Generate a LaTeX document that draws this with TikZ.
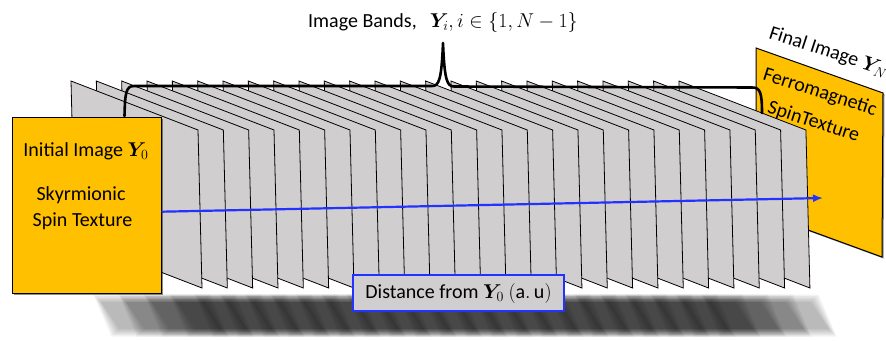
\RequirePackage{fix-cm}
\documentclass[tikz,border=0pt]{standalone}
\usepackage{amsmath,bm}
\usepackage{fontspec}
\setmainfont{Carlito}
\usetikzlibrary{arrows.meta,shadows,calc}
\definecolor{gold}{RGB}{255,192,0}
\definecolor{plategray}{RGB}{208,206,206}
\definecolor{arrowblue}{RGB}{35,50,255}
\tikzset{
  txt/.style={font=\fontsize{20}{24}\selectfont, inner sep=0pt},
  plate/.style={fill=plategray, draw=black, line width=0.8pt, line join=miter},
  goldbox/.style={fill=gold, draw=black, line width=1pt,
     drop shadow={shadow xshift=1.5pt, shadow yshift=-1.5pt, opacity=0.45, fill=black}},
  bracketline/.style={draw=black, line width=2.6pt, line join=round, line cap=round},
  bluearrow/.style={draw=arrowblue, line width=2.2pt, -{Latex[length=10pt,width=8pt]}},
  distbox/.style={txt, fill=plategray, draw=arrowblue, line width=1.3pt,
     minimum width=211pt, minimum height=36pt},
  gshadow/.style={fill=black, fill opacity=0.052, draw=none}
}
\begin{document}
\begin{tikzpicture}[x=1pt,y=-1pt]
\useasboundingbox (0,0) rectangle (886,340);
% ground shadow of the plates
\foreach \k in {0,...,24}{
  \pgfmathsetmacro\xl{98+25.33*\k}
  \foreach \e in {4.5,3,1.5,0,-1.5,-3}{
    \fill[gshadow] ({\xl-\e},{299-\e}) -- ({\xl+108+\e},{299-\e}) -- ({\xl+126+\e},{332+\e}) -- ({\xl+18-\e},{332+\e}) -- cycle;
  }
}
% final image panel
\filldraw[goldbox] (756,48) coordinate (fA) -- (883,93) coordinate (fB) -- (882,257) coordinate (fC) -- (756,211) coordinate (fD) -- cycle;
% image bands
\foreach \k in {24,23,...,0}{
  \pgfmathsetmacro\xx{71+25.33*\k}
  \filldraw[plate] (\xx,81) -- ++(127,49) -- ++(4,158) -- ++(-127,-49) -- cycle;
}
% bracket
\coordinate (bL) at (124.5,116);
\coordinate (bTop) at (443,43);
\coordinate (bR) at (762,113);
\draw[bracketline] (bL) .. controls (125,93) and (126,86) .. (134,86) -- (432,86)
   .. controls (439,86) and (441.5,80) .. (bTop)
   .. controls (444.5,80) and (447,86.5) .. (454,86.5) -- (752,87.5)
   .. controls (760,87.5) and (762,92) .. (bR);
% left box
\node[goldbox, minimum width=149pt, minimum height=176pt, inner sep=0pt] (ibox) at (86.5,205) {};
\node[txt, anchor=base] (t1) at (86,156.5) {Initial Image $\bm{Y}_0$};
\node[txt, anchor=base] (t2) at (81,200) {Skyrmionic};
\node[txt, anchor=base] (t3) at (82.5,226.5) {Spin Texture};
% arrow
\coordinate (aend) at (823,198);
\draw[bluearrow] ([yshift=-6.7pt]ibox.east) -- (aend);
% header
\node[txt, anchor=base west] (head) at (308,27.7) {Image Bands,\hspace{13pt}$\bm{Y}_i, i\in\{1,N-1\}$};
% final image texts
\node[txt, anchor=base west, rotate=-18] (fin) at (768,38) {Final Image $\bm{Y}_N$};
\node[txt, anchor=base west, rotate=-18] (fer) at (762,79.5) {Ferromagnetic};
\node[txt, anchor=base west, rotate=-18] (spin) at (766.5,112.5) {SpinTexture};
% distance label
\node[distbox] (dist) at (458.5,293) {Distance from $\bm{Y}_0$ $(\mathrm{a.\,u})$};
\end{tikzpicture}
\end{document}
